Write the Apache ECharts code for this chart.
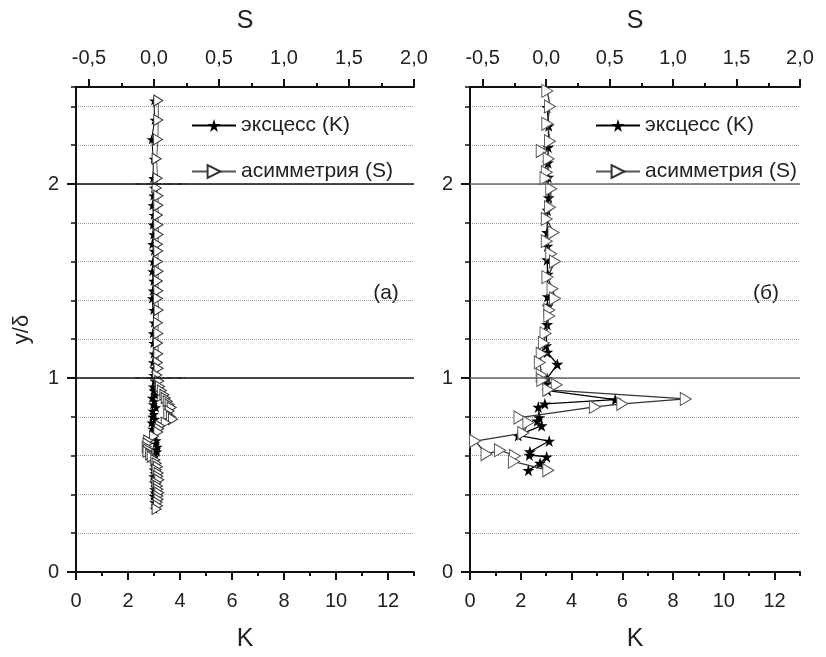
<!DOCTYPE html>
<html>
<head>
<meta charset="utf-8" />
<title>эксцесс и асимметрия</title>
<script src="https://cdn.jsdelivr.net/npm/echarts@6/dist/echarts.min.js"></script>
<style>
  html, body { margin: 0; padding: 0; background: #fff; }
  #chart { width: 826px; height: 657px; }
</style>
</head>
<body>
<div id="chart"></div>
<script>
// tick values
var kTicks = [0, 2, 4, 6, 8, 10, 12];
var kMinorTicks = [1, 3, 5, 7, 9, 11, 13];
var sTicks = [-0.5, 0, 0.5, 1, 1.5, 2];
var sMinorTicks = [-0.25, 0.25, 0.75, 1.25, 1.75];
var yTicks = [0, 1, 2];
var refLines = [1, 2];

// panel (a): y/delta, K, S
var yA = [2.43, 2.33, 2.23, 2.13, 2.03, 1.98, 1.94, 1.89, 1.84, 1.79, 1.74, 1.69, 1.655, 1.60, 1.55, 1.50,
  1.45, 1.41, 1.35, 1.285, 1.23, 1.18, 1.125, 1.08, 1.05, 1.015, 0.985, 0.956, 0.935, 0.914, 0.897, 0.88,
  0.864, 0.848, 0.83, 0.813, 0.80, 0.788, 0.77, 0.754, 0.738, 0.722, 0.70, 0.678, 0.662, 0.645, 0.632, 0.62,
  0.607, 0.594, 0.577, 0.56, 0.543, 0.527, 0.51, 0.493, 0.476, 0.46, 0.443, 0.426, 0.409, 0.392, 0.375,
  0.359, 0.342, 0.325];
var kA = [3.0, 3.02, 2.91, 2.98, 2.96, 3.0, 2.97, 2.94, 2.98, 2.95, 2.97, 2.93, 2.99, 2.96, 2.93, 2.97,
  2.95, 2.92, 2.97, 2.99, 2.95, 2.97, 2.98, 2.96, 3.0, 2.97, 3.02, 2.95, 2.98, 3.05, 2.92, 3.02,
  2.96, 3.08, 2.94, 3.0, 2.93, 3.04, 2.9, 2.98, 2.93, 3.02, 3.0, 3.1, 3.06, 3.14, 3.08, 3.12,
  3.04, 3.02, 3.06, 3.0, 3.04, 2.98, 3.02, 2.97, 3.03, 2.99, 3.05, 3.0, 3.02, 2.98, 3.04,
  3.0, 3.06, 3.02];
var sA = [0.033, 0.033, 0.03, 0.02, 0.028, 0.02, 0.033, 0.033, 0.03, 0.033, 0.035, 0.03, 0.033, 0.03, 0.035, 0.03,
  0.033, 0.03, 0.035, 0.03, 0.033, 0.03, 0.033, 0.03, 0.035, 0.025, 0.04, 0.046, 0.06, 0.08, 0.09, 0.105,
  0.12, 0.136, 0.12, 0.11, 0.13, 0.146, 0.09, 0.046, 0.04, 0.033, 0.0, -0.044, -0.05, -0.056, -0.045, -0.05,
  -0.03, -0.018, 0.01, 0.02, 0.03, 0.02, 0.035, 0.033, 0.04, 0.02, 0.03, 0.033, 0.04, 0.033, 0.035,
  0.028, 0.03, 0.02];
// short dash-dot marks at y/delta = 1 and 2 in panel (a)
var dashK = [2.27, 4.2];

// panel (б)
var yBk = [2.395, 2.30, 2.19, 2.11, 2.035, 1.93, 1.865, 1.75, 1.68, 1.61, 1.535, 1.42, 1.37, 1.276, 1.167, 1.133,
  1.071, 0.998, 0.968, 0.935, 0.889, 0.867, 0.85, 0.796, 0.779, 0.754, 0.704, 0.675, 0.62, 0.603, 0.594,
  0.561, 0.524];
var kB = [3.04, 3.1, 3.08, 3.07, 3.08, 3.1, 3.05, 3.04, 3.05, 3.04, 3.06, 3.06, 3.05, 3.04, 3.0, 3.04,
  3.44, 3.04, 2.99, 3.06, 5.72, 2.95, 2.69, 2.73, 2.65, 2.82, 1.90, 3.12, 2.36, 2.34, 3.02,
  2.76, 2.30];
var yBs = [2.48, 2.40, 2.31, 2.22, 2.17, 2.13, 2.06, 2.03, 1.975, 1.88, 1.82, 1.75, 1.705, 1.64, 1.60, 1.52,
  1.46, 1.41, 1.35, 1.32, 1.23, 1.18, 1.125, 1.08, 1.015, 0.99, 0.965, 0.939, 0.892, 0.867, 0.851,
  0.796, 0.771, 0.716, 0.675, 0.608, 0.628, 0.598, 0.569, 0.524];
var sB = [0.009, 0.03, 0.009, 0.03, -0.035, 0.02, 0.005, -0.005, 0.04, 0.03, 0.005, 0.058, 0.005, 0.04, 0.07, 0.01,
  0.05, 0.07, 0.025, 0.025, -0.005, -0.018, -0.035, -0.05, -0.035, -0.03, 0.083, 0.017, 1.10, 0.60, 0.384,
  -0.21, -0.14, -0.18, -0.56, -0.47, -0.364, -0.246, -0.254, 0.017];

var nameK = "эксцесс (K)";
var nameS = "асимметрия (S)";
var FONT = "Liberation Sans";
var INK = "#222";
var starPath = "path://M50,0L61,35L98,35L68,57L79,91L50,70L21,91L32,57L2,35L39,35Z";
var triPath = "path://M0,0L10,6L0,12Z";

function pairs(xs, ys) {
  return xs.map(function (x, i) { return [x, ys[i]]; });
}
function fmtS(v) {
  return Number(v).toFixed(1).replace(".", ",");
}

var grids = [
  { left: 76, top: 87, width: 338, height: 494 },
  { left: 470, top: 87, width: 330, height: 494 }
];

var xAxes = [];
var yAxes = [];
grids.forEach(function (g, gi) {
  // bottom K axis
  xAxes.push({
    gridIndex: gi, type: "value", position: "bottom", min: 0, max: 13,
    name: "K", nameLocation: "middle", nameGap: 55,
    nameTextStyle: { fontFamily: FONT, fontSize: 25, color: INK },
    axisLine: { show: true, lineStyle: { color: "#111", width: 2 } },
    axisTick: { show: true, length: 8, customValues: kTicks, lineStyle: { color: "#111", width: 2 } },
    axisLabel: { customValues: kTicks, margin: 19, fontFamily: FONT, fontSize: 20, color: INK },
    splitLine: { show: false }
  });
  xAxes.push({
    gridIndex: gi, type: "value", position: "bottom", min: 0, max: 13,
    axisLine: { show: false },
    axisTick: { show: true, length: 4, customValues: kMinorTicks, lineStyle: { color: "#111", width: 2 } },
    axisLabel: { show: false }, splitLine: { show: false }
  });
  // top S axis
  xAxes.push({
    gridIndex: gi, type: "value", position: "top", min: -0.6, max: 2.0,
    name: "S", nameLocation: "middle", nameGap: 53,
    nameTextStyle: { fontFamily: FONT, fontSize: 25, color: INK },
    axisLine: { show: true, lineStyle: { color: "#111", width: 2 } },
    axisTick: { show: true, length: 8, customValues: sTicks, lineStyle: { color: "#111", width: 2 } },
    axisLabel: { customValues: sTicks, margin: 19, formatter: fmtS, fontFamily: FONT, fontSize: 20, color: INK },
    splitLine: { show: false }
  });
  xAxes.push({
    gridIndex: gi, type: "value", position: "top", min: -0.6, max: 2.0,
    axisLine: { show: false },
    axisTick: { show: true, length: 4, customValues: sMinorTicks, lineStyle: { color: "#111", width: 2 } },
    axisLabel: { show: false }, splitLine: { show: false }
  });
  // y axis with labels + major ticks
  yAxes.push({
    gridIndex: gi, type: "value", position: "left", min: 0, max: 2.5,
    name: gi === 0 ? "y/δ" : "", nameLocation: "middle", nameGap: 43,
    nameTextStyle: { fontFamily: FONT, fontSize: 22, color: INK },
    axisLine: { show: true, lineStyle: { color: "#111", width: 2 } },
    axisTick: { show: true, length: 9, customValues: yTicks, lineStyle: { color: "#111", width: 2 } },
    axisLabel: { customValues: yTicks, margin: 17, fontFamily: FONT, fontSize: 20, color: INK },
    splitLine: { show: false }
  });
  // minor ticks and dotted grid lines every 0.2
  yAxes.push({
    gridIndex: gi, type: "value", position: "left", min: 0, max: 2.5, interval: 0.2,
    axisLine: { show: false },
    axisTick: { show: true, length: 5, lineStyle: { color: "#111", width: 1.5 } },
    axisLabel: { show: false },
    splitLine: { show: true, lineStyle: { color: "#9a9a9a", type: "dotted", width: 1 } }
  });
});

var series = [];
// panel (a)
series.push({
  name: nameK, type: "line", xAxisIndex: 0, yAxisIndex: 0, data: pairs(kA, yA),
  symbol: starPath, symbolSize: 10, z: 3,
  lineStyle: { color: "#000", width: 1 }, itemStyle: { color: "#000" },
  markLine: {
    silent: true, symbol: "none", label: { show: false },
    lineStyle: { color: "#111", type: "solid", width: 1.5 },
    data: refLines.map(function (v) { return { yAxis: v }; })
  }
});
series.push({
  name: nameS, type: "line", xAxisIndex: 2, yAxisIndex: 0, data: pairs(sA, yA),
  symbol: triPath, symbolSize: [9, 11], z: 4,
  lineStyle: { color: "#555", width: 1 },
  itemStyle: { color: "#fff", borderColor: "#333", borderWidth: 1 }
});
refLines.forEach(function (v) {
  series.push({
    type: "line", xAxisIndex: 0, yAxisIndex: 0, symbol: "none", z: 5,
    data: dashK.map(function (k) { return [k, v]; }),
    lineStyle: { color: "#222", width: 1.5, type: [5, 2, 1.5, 2] }
  });
});
// panel (б)
series.push({
  name: nameK, type: "line", xAxisIndex: 4, yAxisIndex: 2, data: pairs(kB, yBk),
  symbol: starPath, symbolSize: 12, z: 3,
  lineStyle: { color: "#000", width: 1.3 }, itemStyle: { color: "#000" },
  markLine: {
    silent: true, symbol: "none", label: { show: false },
    lineStyle: { color: "#666", type: "solid", width: 1.5 },
    data: refLines.map(function (v) { return { yAxis: v }; })
  }
});
series.push({
  name: nameS, type: "line", xAxisIndex: 6, yAxisIndex: 2, data: pairs(sB, yBs),
  symbol: triPath, symbolSize: [11, 13], z: 4,
  lineStyle: { color: "#333", width: 1.3 },
  itemStyle: { color: "#fff", borderColor: "#555", borderWidth: 1 }
});

function makeLegend(left) {
  return {
    left: left, top: 110, orient: "vertical", itemWidth: 44, itemHeight: 16, itemGap: 25,
    selectedMode: false, data: [nameK, nameS],
    textStyle: { fontFamily: FONT, fontSize: 21, color: INK }
  };
}

var chart = echarts.init(document.getElementById("chart"), null, { renderer: "canvas" });
chart.setOption({
  animation: false,
  backgroundColor: "#fff",
  grid: grids,
  xAxis: xAxes,
  yAxis: yAxes,
  legend: [makeLegend(186), makeLegend(590)],
  graphic: [
    { type: "text", x: 386, y: 293, style: { text: "(a)", align: "center", verticalAlign: "middle", font: "21px Liberation Sans", fill: INK } },
    { type: "text", x: 766, y: 293, style: { text: "(б)", align: "center", verticalAlign: "middle", font: "21px Liberation Sans", fill: INK } }
  ],
  series: series
});
</script>
</body>
</html>
